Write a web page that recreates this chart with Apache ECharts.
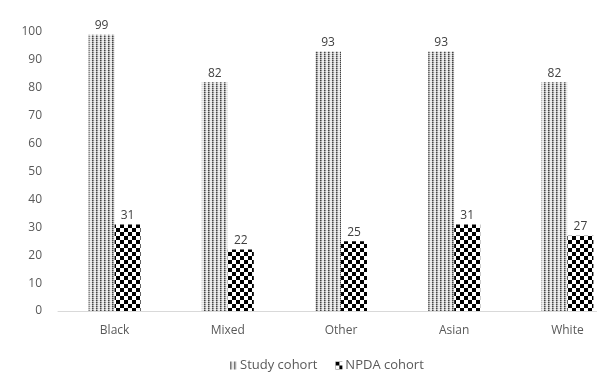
<!DOCTYPE html>
<html>
<head>
<meta charset="utf-8">
<script src="https://cdn.jsdelivr.net/npm/echarts@6/dist/echarts.min.js"></script>
<style>
  html, body { margin: 0; padding: 0; background: #fff; overflow: hidden; }
  #wrap { width: 597px; height: 372px; overflow: hidden; }
  /* the plot area is wider than the visible frame and is cut at the right */
  #chart { width: 660px; height: 372px; }
</style>
</head>
<body>
<div id="wrap"><div id="chart"></div></div>
<script>
// Ethnic groups and the two cohorts
const categories = ['Black', 'Mixed', 'Other', 'Asian', 'White'];
const studyCohort = [99, 82, 93, 93, 82];
const npdaCohort = [31, 22, 25, 31, 27];
const seriesNames = ['Study cohort', 'NPDA cohort'];

// Fine dot grid for the study cohort
function dotPattern() {
  const c = document.createElement('canvas');
  c.width = 4; c.height = 2;
  const g = c.getContext('2d');
  g.fillStyle = '#f2f2f2'; g.fillRect(0, 0, 4, 2);
  g.fillStyle = '#444444'; g.fillRect(0, 0, 1, 1);
  g.fillStyle = '#8a8a8a'; g.fillRect(1, 0, 1, 1);
  g.fillStyle = '#a8a8a8'; g.fillRect(0, 1, 1, 1);
  g.fillStyle = '#d0d0d0'; g.fillRect(1, 1, 1, 1);
  g.fillStyle = '#dddddd'; g.fillRect(2, 0, 2, 1);
  return c;
}

// Checkerboard for the NPDA cohort
function checkPattern() {
  const c = document.createElement('canvas');
  c.width = 8; c.height = 8;
  const g = c.getContext('2d');
  g.fillStyle = '#ffffff'; g.fillRect(0, 0, 8, 8);
  g.fillStyle = '#000000';
  g.fillRect(0, 0, 4, 4);
  g.fillRect(4, 4, 4, 4);
  return c;
}

const dotFill = { image: dotPattern(), repeat: 'repeat' };
const checkFill = { image: checkPattern(), repeat: 'repeat' };

const chart = echarts.init(document.getElementById('chart'));
const font = '"Open Sans", "Noto Sans", sans-serif';

chart.setOption({
  animation: false,
  textStyle: { fontFamily: font },
  grid: { left: 58, width: 566, top: 32, bottom: 61, containLabel: false },
  legend: {
    top: 354,
    left: 225,
    itemWidth: 7,
    itemHeight: 8,
    itemGap: 18,
    icon: 'rect',
    textStyle: { color: '#595959', fontSize: 13, fontFamily: font, padding: [0, 0, 0, -2] },
    data: seriesNames
  },
  xAxis: {
    type: 'category',
    data: categories,
    axisLine: { lineStyle: { color: '#d9d9d9', width: 1 } },
    axisTick: { show: false },
    axisLabel: { color: '#595959', fontSize: 12, margin: 14, fontFamily: font }
  },
  yAxis: {
    type: 'value',
    min: 0, max: 100, interval: 10,
    axisLine: { show: false },
    axisTick: { show: false },
    splitLine: { show: false },
    axisLabel: { color: '#595959', fontSize: 12, margin: 16, fontFamily: font }
  },
  series: [
    {
      name: seriesNames[0],
      type: 'bar',
      data: studyCohort,
      barWidth: 26,
      barGap: '0%',
      itemStyle: { color: dotFill },
      label: { show: true, position: 'top', color: '#404040', fontSize: 12, distance: 3, fontFamily: font }
    },
    {
      name: seriesNames[1],
      type: 'bar',
      data: npdaCohort,
      barWidth: 26,
      itemStyle: { color: checkFill },
      label: { show: true, position: 'top', color: '#404040', fontSize: 12, distance: 3, fontFamily: font }
    }
  ]
});
</script>
</body>
</html>
